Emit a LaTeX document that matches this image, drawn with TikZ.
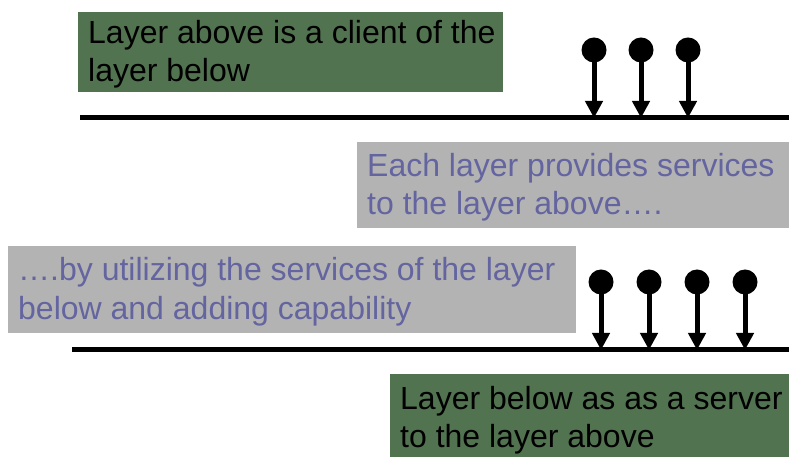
\documentclass[tikz,border=0pt]{standalone}
\usepackage{fontspec}
\setmainfont{Liberation Sans}
\usetikzlibrary{arrows.meta}
\definecolor{layergreen}{RGB}{82,115,80}
\definecolor{notegray}{RGB}{179,179,179}
\definecolor{notetext}{RGB}{100,100,160}
\begin{document}
\begin{tikzpicture}[x=1pt, y=1pt,
        every node/.style={font=\fontsize{32}{38.5}\selectfont},
        layerbox/.style={fill=layergreen, anchor=north west, inner sep=0pt},
        notebox/.style={fill=notegray, anchor=north west, inner sep=0pt},
        layertext/.style={text=black, anchor=west, align=left, inner sep=0pt, xshift=10pt, yshift=-2pt},
        notetextstyle/.style={text=notetext, anchor=west, align=left, inner sep=0pt, xshift=10pt, yshift=-2pt},
        pin/.style={circle, fill=black, minimum size=25pt, inner sep=0pt},
        layerline/.style={line width=5pt},
        pinarrow/.style={line width=5pt, -{Triangle[length=17pt, width=17pt]}}]
        \useasboundingbox (0,0) rectangle (789,457);

        % Boxes
        \node[layerbox, minimum width=425pt, minimum height=80pt] (clientbox) at (78, 445) {};
        \node[notebox, minimum width=432pt, minimum height=86pt] (providesbox) at (357, 315) {};
        \node[notebox, minimum width=568pt, minimum height=87pt] (utilizingbox) at (8, 211) {};
        \node[layerbox, minimum width=399pt, minimum height=88pt] (serverbox) at (390, 83) {};

        % Box texts
        \node[layertext] (client) at (clientbox.west) {Layer above is a client of the\\layer below};
        \node[notetextstyle] (provides) at (providesbox.west) {Each layer provides services\\to the layer above….};
        \node[notetextstyle] (utilizing) at (utilizingbox.west) {….by utilizing the services of the layer\\below and adding capability};
        \node[layertext] (server) at (serverbox.west) {Layer below as as a server\\to the layer above};

        % Layer lines
        \coordinate (upperleft) at (80, 339);
        \coordinate (upperright) at (789, 339);
        \coordinate (lowerleft) at (72, 107);
        \coordinate (lowerright) at (789, 107);
        \draw[layerline] (upperleft) -- (upperright);
        \draw[layerline] (lowerleft) -- (lowerright);

        % Upper pins
        \node[pin] (up1) at (594, 407) {};
        \node[pin] (up2) at (641, 407) {};
        \node[pin] (up3) at (688, 407) {};
        \coordinate (up1end) at (594, 339);
        \coordinate (up2end) at (641, 339);
        \coordinate (up3end) at (688, 339);
        \draw[pinarrow] (up1.center) -- (up1end);
        \draw[pinarrow] (up2.center) -- (up2end);
        \draw[pinarrow] (up3.center) -- (up3end);

        % Lower pins
        \node[pin] (low1) at (601, 175) {};
        \node[pin] (low2) at (649, 175) {};
        \node[pin] (low3) at (697, 175) {};
        \node[pin] (low4) at (745, 175) {};
        \coordinate (low1end) at (601, 107);
        \coordinate (low2end) at (649, 107);
        \coordinate (low3end) at (697, 107);
        \coordinate (low4end) at (745, 107);
        \draw[pinarrow] (low1.center) -- (low1end);
        \draw[pinarrow] (low2.center) -- (low2end);
        \draw[pinarrow] (low3.center) -- (low3end);
        \draw[pinarrow] (low4.center) -- (low4end);
\end{tikzpicture}
\end{document}
